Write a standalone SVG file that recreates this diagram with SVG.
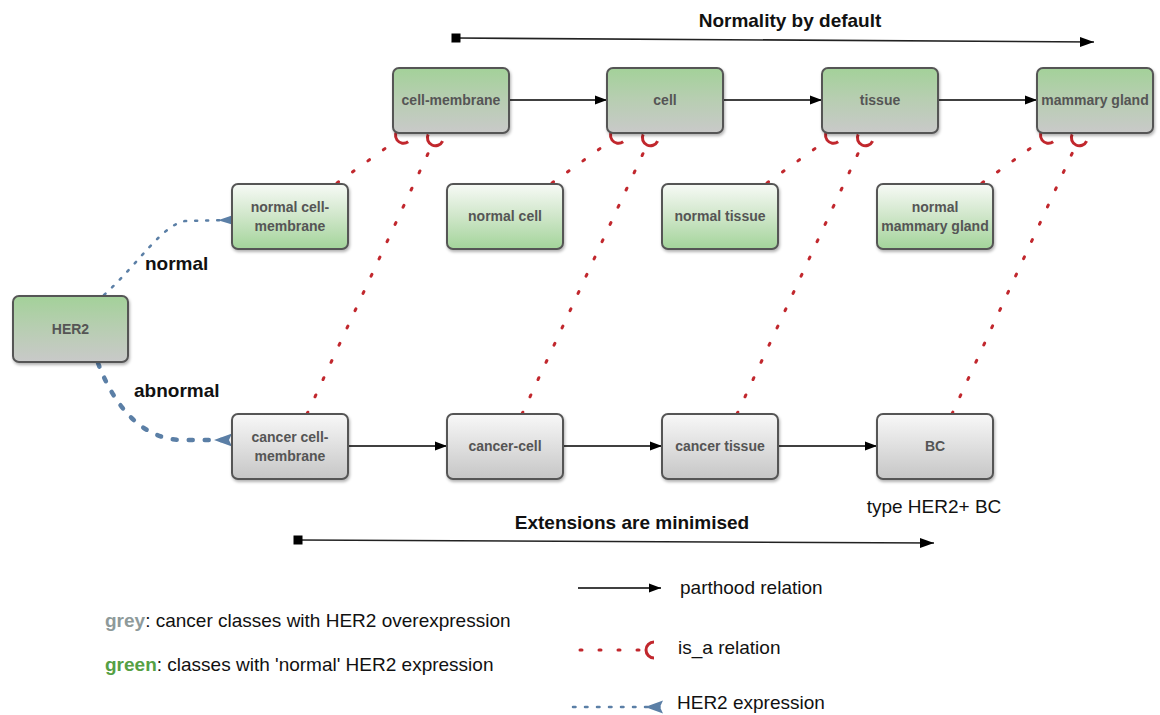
<svg xmlns="http://www.w3.org/2000/svg" width="1160" height="715" viewBox="0 0 1160 715">
<style>
.node rect{stroke:#555;stroke-width:2;filter:url(#sh)}
.top rect{fill:url(#gTop)}
.nor rect{fill:url(#gNor)}
.can rect{fill:url(#gCan)}
.node text{font-family:"Liberation Sans",Arial,sans-serif;font-weight:bold;font-size:14px;fill:#555;text-anchor:middle}
.part{stroke:#000;stroke-width:1.6;fill:none;marker-end:url(#arr)}
.isa{stroke:#c1272d;stroke-width:3;stroke-linecap:round;stroke-dasharray:2 17;fill:none;marker-end:url(#isa)}
.her{stroke:#5b7fa6;fill:none;stroke-linecap:round}
.lbl{font-family:"Liberation Sans",Arial,sans-serif;font-size:19px;fill:#111}
.b{font-weight:bold}
</style>
<defs>
<linearGradient id="gTop" x1="0" y1="0" x2="0" y2="1"><stop offset="0" stop-color="#a3d199"/><stop offset="0.45" stop-color="#b6ceb0"/><stop offset="1" stop-color="#c9c9c9"/></linearGradient>
<linearGradient id="gNor" x1="0" y1="0" x2="0" y2="1"><stop offset="0" stop-color="#f7faf6"/><stop offset="0.5" stop-color="#cfe6c9"/><stop offset="1" stop-color="#a3d49a"/></linearGradient>
<linearGradient id="gCan" x1="0" y1="0" x2="0" y2="1"><stop offset="0" stop-color="#f8f8f8"/><stop offset="1" stop-color="#c6c6c6"/></linearGradient>
<filter id="sh" x="-10%" y="-10%" width="130%" height="140%"><feDropShadow dx="1" dy="2" stdDeviation="1.5" flood-color="#000" flood-opacity="0.3"/></filter>
<marker id="arr" markerUnits="userSpaceOnUse" markerWidth="14" markerHeight="12" refX="12" refY="6" orient="auto"><path d="M0,1.5 L12,6 L0,10.5 z" fill="#000"/></marker>
<marker id="arrL" markerUnits="userSpaceOnUse" markerWidth="16" markerHeight="12" refX="14" refY="6" orient="auto"><path d="M0,1 L14,6 L0,11 z" fill="#000"/></marker>
<marker id="sq" markerUnits="userSpaceOnUse" markerWidth="10" markerHeight="10" refX="5" refY="5" orient="auto"><rect x="0.5" y="0.5" width="9" height="9" fill="#000"/></marker>
<marker id="isa" markerUnits="userSpaceOnUse" markerWidth="20" markerHeight="20" refX="0" refY="0" orient="auto" overflow="visible"><path d="M8,-8 A8,8 0 0 0 8,8" fill="none" stroke="#c1272d" stroke-width="3"/></marker>
<marker id="herS" markerUnits="userSpaceOnUse" markerWidth="20" markerHeight="20" refX="0" refY="0" orient="auto" overflow="visible"><path d="M0,-4.5 L0,4.5 L-14,0 z" fill="#5b7fa6"/></marker>
<marker id="herL" markerUnits="userSpaceOnUse" markerWidth="20" markerHeight="20" refX="0" refY="0" orient="auto" overflow="visible"><path d="M0,-6.5 L-3,0 L0,6.5 L-18,0 z" fill="#5b7fa6"/></marker>
</defs>
<rect width="1160" height="715" fill="#fff"/>

<g id="connectors">
  <path class="part" d="M509,100 L607,100"/>
  <path class="part" d="M723,100 L822,100"/>
  <path class="part" d="M938,100 L1037,100"/>
  <path class="part" d="M348,446 L447,446"/>
  <path class="part" d="M563,446 L662,446"/>
  <path class="part" d="M778,446 L877,446"/>
  <path class="isa" d="M337,183 L397,140"/>
  <path class="isa" d="M307,414 L432,145"/>
  <path class="isa" d="M552,183 L612,140"/>
  <path class="isa" d="M522,414 L647,145"/>
  <path class="isa" d="M767,183 L827,140"/>
  <path class="isa" d="M737,414 L862,145"/>
  <path class="isa" d="M982,183 L1042,140"/>
  <path class="isa" d="M952,414 L1076,145"/>
  <path class="her" stroke-width="2.5" stroke-dasharray="2 9" marker-end="url(#herS)" d="M104,295 C140,262 162,225 185,221 L232,220"/>
  <path class="her" stroke-width="4.5" stroke-dasharray="4 12" marker-end="url(#herL)" d="M98,363 C110,395 135,438 180,440 L232,440"/>
</g>

<g id="her2" class="node top"><rect x="13" y="296" width="115" height="66" rx="6"/><text x="70.5" y="334">HER2</text></g>
<g id="cell-membrane" class="node top"><rect x="393" y="68" width="116" height="65" rx="6"/><text x="451" y="105">cell-membrane</text></g>
<g id="cell" class="node top"><rect x="607" y="68" width="116" height="65" rx="6"/><text x="665" y="105">cell</text></g>
<g id="tissue" class="node top"><rect x="822" y="68" width="116" height="65" rx="6"/><text x="880" y="105">tissue</text></g>
<g id="mammary-gland" class="node top"><rect x="1037" y="68" width="116" height="65" rx="6"/><text x="1095" y="105">mammary gland</text></g>

<g id="normal-cell-membrane" class="node nor"><rect x="232" y="184" width="116" height="65" rx="6"/><text x="290" y="212">normal cell-</text><text x="290" y="231">membrane</text></g>
<g id="normal-cell" class="node nor"><rect x="447" y="184" width="116" height="65" rx="6"/><text x="505" y="221">normal cell</text></g>
<g id="normal-tissue" class="node nor"><rect x="662" y="184" width="116" height="65" rx="6"/><text x="720" y="221">normal tissue</text></g>
<g id="normal-mammary-gland" class="node nor"><rect x="877" y="184" width="116" height="65" rx="6"/><text x="935" y="212">normal</text><text x="935" y="231">mammary gland</text></g>

<g id="cancer-cell-membrane" class="node can"><rect x="232" y="414" width="116" height="65" rx="6"/><text x="290" y="442">cancer cell-</text><text x="290" y="461">membrane</text></g>
<g id="cancer-cell" class="node can"><rect x="447" y="414" width="116" height="65" rx="6"/><text x="505" y="451">cancer-cell</text></g>
<g id="cancer-tissue" class="node can"><rect x="662" y="414" width="116" height="65" rx="6"/><text x="720" y="451">cancer tissue</text></g>
<g id="bc" class="node can"><rect x="877" y="414" width="116" height="65" rx="6"/><text x="935" y="451">BC</text></g>

<g id="annotations">
  <text class="lbl b" x="790" y="27" text-anchor="middle">Normality by default</text>
  <path d="M456,38 L1094,42" stroke="#222" stroke-width="1.6" fill="none" marker-start="url(#sq)" marker-end="url(#arrL)"/>
  <text class="lbl b" x="632" y="529" text-anchor="middle">Extensions are minimised</text>
  <path d="M298,540 L934,543" stroke="#222" stroke-width="1.6" fill="none" marker-start="url(#sq)" marker-end="url(#arrL)"/>
  <text class="lbl" x="934" y="513" text-anchor="middle" font-size="18">type HER2+ BC</text>
  <text class="lbl b" x="145" y="270" font-size="18">normal</text>
  <text class="lbl b" x="134" y="397" font-size="18">abnormal</text>
</g>

<g id="legend">
  <path class="part" d="M578,588 L661,588"/>
  <text class="lbl" x="680" y="594">parthood relation</text>
  <path class="isa" d="M580,650 L646,650"/>
  <text class="lbl" x="678" y="654">is_a relation</text>
  <path class="her" stroke-width="2.5" stroke-dasharray="2.5 9.5" marker-end="url(#herL)" d="M573,707 L663,707"/>
  <text class="lbl" x="677" y="709">HER2 expression</text>
  <text class="lbl" x="105" y="627"><tspan fill="#8e9a9a" font-weight="bold">grey</tspan>: cancer classes with HER2 overexpression</text>
  <text class="lbl" x="105" y="671"><tspan fill="#55a044" font-weight="bold">green</tspan>: classes with 'normal' HER2 expression</text>
</g>
</svg>
